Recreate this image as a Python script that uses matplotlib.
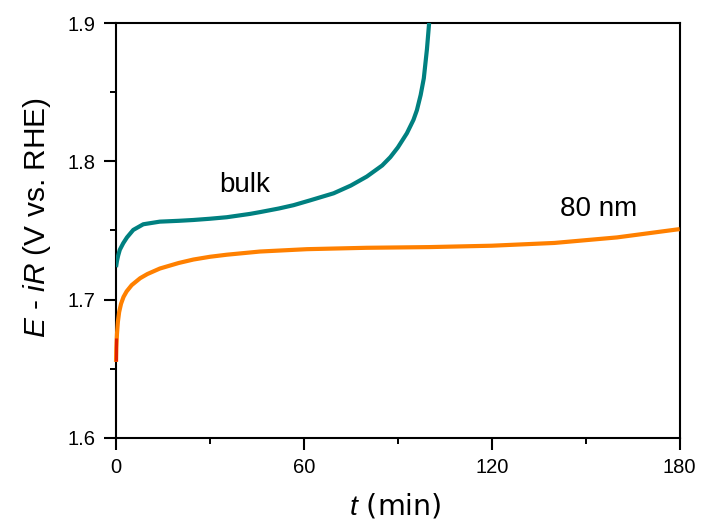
import matplotlib
matplotlib.use("Agg")
import matplotlib.pyplot as plt
from matplotlib.ticker import MultipleLocator

plt.rcParams['font.family'] = ['Liberation Sans', 'DejaVu Sans']
plt.rcParams['mathtext.fontset'] = 'custom'
plt.rcParams['mathtext.it'] = 'Liberation Sans:italic'
plt.rcParams['mathtext.rm'] = 'Liberation Sans'

bulk_t = [0, 0.3, 0.7, 1.2, 2.3, 3.5, 5.5, 8.7, 14, 20, 24.7, 30, 35.4, 42.8, 46, 52,
          56.7, 62, 69.5, 75, 80.1, 85, 87.6, 90, 92.9, 95, 96.1, 97.3, 98.3, 99.3, 100.0]
bulk_v = [1.7235, 1.728, 1.732, 1.736, 1.7408, 1.745, 1.7504, 1.7545, 1.7564, 1.757,
          1.7576, 1.7585, 1.7596, 1.7620, 1.7633, 1.7659, 1.7683, 1.7718, 1.7769, 1.7825,
          1.789, 1.797, 1.803, 1.810, 1.8203, 1.830, 1.837, 1.848, 1.860, 1.881, 1.900]

nm_t = [0, 0.1, 0.3, 0.6, 1, 1.6, 2.4, 3.4, 5, 7.7, 10, 14, 20, 24.7, 30, 35.4, 46, 61,
        80, 100, 120, 140, 150, 160, 170, 180]
nm_v = [1.655, 1.665, 1.675, 1.684, 1.691, 1.697, 1.702, 1.706, 1.7105, 1.7155, 1.7185,
        1.7225, 1.7265, 1.729, 1.731, 1.7325, 1.7348, 1.7365, 1.7375, 1.738, 1.739, 1.741,
        1.743, 1.745, 1.748, 1.751]

red_t = [0, 0]
red_v = [1.656, 1.672]

x_ticks = [0, 60, 120, 180]
x_labels = ['0', '60', '120', '180']
y_ticks = [1.6, 1.7, 1.8, 1.9]
y_labels = ['1.6', '1.7', '1.8', '1.9']

fig = plt.figure(figsize=(7.01, 5.30), dpi=100)
ax = fig.add_axes([0.1655, 0.1736, 0.804, 0.783])

ax.plot(nm_t, nm_v, color='#FF8000', lw=3.0, solid_capstyle='butt', clip_on=False, zorder=3)
ax.plot(red_t, red_v, color='#E02000', lw=2.2, solid_capstyle='butt', clip_on=False, zorder=4)
ax.plot(bulk_t, bulk_v, color='#008080', lw=3.0, solid_capstyle='butt', clip_on=True, zorder=3)

ax.set_xlim(0, 180)
ax.set_ylim(1.6, 1.9)
ax.xaxis.set_minor_locator(MultipleLocator(30))
ax.yaxis.set_minor_locator(MultipleLocator(0.05))
ax.set_xticks(x_ticks)
ax.set_xticklabels(x_labels)
ax.set_yticks(y_ticks)
ax.set_yticklabels(y_labels)

for s in ax.spines.values():
    s.set_linewidth(1.5)
ax.tick_params(which='major', direction='out', length=8.6, width=1.5, labelsize=14.5, pad=6)
ax.tick_params(which='minor', direction='out', length=4.5, width=1.4)

ax.set_xlabel(r'$\it{t}$ (min)', fontsize=20.5, family=['DejaVu Sans'])
ax.xaxis.set_label_coords(0.496, -0.1855)
ax.xaxis.label.set_verticalalignment('baseline')

ax.set_ylabel(r'$\it{E}$ - $\it{iR}$ (V vs. RHE)', fontsize=21.5)
ax.yaxis.set_label_coords(-0.126, 0.531)
ax.yaxis.label.set_verticalalignment('baseline')

ax.text(41, 1.783, 'bulk', fontsize=20, ha='center', va='center')
ax.text(154, 1.7656, '80 nm', fontsize=20, ha='center', va='center')

fig.savefig('out.png', dpi=100)
